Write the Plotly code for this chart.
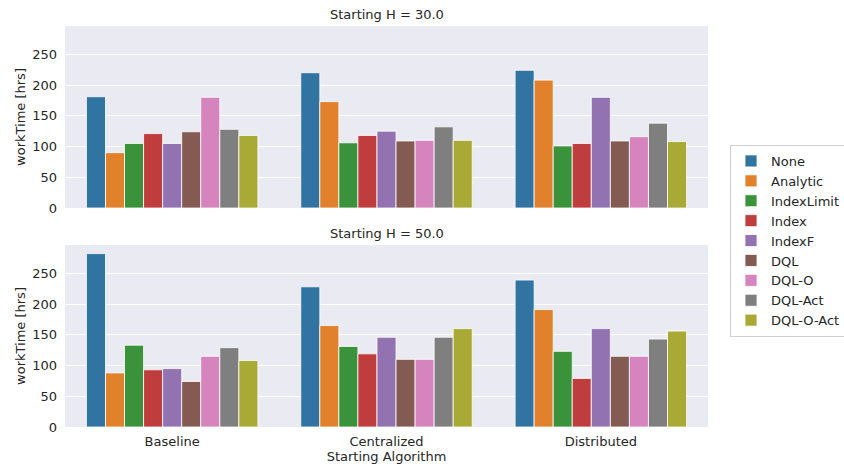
import plotly.graph_objects as go

# Starting algorithms (x categories) and scheduling policies (hue)
algorithms = ["Baseline", "Centralized", "Distributed"]
policies = ["None", "Analytic", "IndexLimit", "Index", "IndexF",
            "DQL", "DQL-O", "DQL-Act", "DQL-O-Act"]
colors = ["#3274a1", "#e1812c", "#3a923a", "#c03d3e", "#9372b2",
          "#845b53", "#d684bd", "#7f7f7f", "#a9aa35"]

# Mean work time [hrs] per policy, one list per starting algorithm
h30 = {
    "Baseline":    [181, 90, 105, 121, 105, 124, 180, 128, 118],
    "Centralized": [220, 173, 106, 118, 125, 109, 110, 132, 110],
    "Distributed": [224, 208, 101, 105, 180, 109, 116, 138, 108],
}
h50 = {
    "Baseline":    [282, 88, 133, 93, 95, 74, 115, 129, 108],
    "Centralized": [228, 165, 131, 119, 146, 110, 110, 146, 160],
    "Distributed": [239, 191, 123, 79, 160, 115, 115, 143, 156],
}

panels = [("Starting H = 30.0", h30, "x", "y"),
          ("Starting H = 50.0", h50, "x2", "y2")]

fig = go.Figure()
for p_idx, (title, data, xa, ya) in enumerate(panels):
    for i, pol in enumerate(policies):
        fig.add_trace(go.Bar(
            x=algorithms,
            y=[data[a][i] for a in algorithms],
            name=pol,
            legendgroup=pol,
            showlegend=(p_idx == 0),
            marker=dict(color=colors[i], line=dict(color="#ffffff", width=0.8)),
            xaxis=xa, yaxis=ya,
        ))

font = dict(family="DejaVu Sans", size=13, color="#262626")
axis_common = dict(
    gridcolor="#ffffff", gridwidth=1,
    zeroline=False, showline=False, ticks="",
    tickfont=font,
)

top_dom = [(427 - 208) / 401, 1.0]
bot_dom = [0.0, 182 / 401]

fig.update_layout(
    width=844, height=464,
    margin=dict(l=65, r=136, t=26, b=37, autoexpand=False),
    paper_bgcolor="#ffffff",
    plot_bgcolor="#eaeaf2",
    font=font,
    barmode="group", bargap=0.2, bargroupgap=0,
    xaxis=dict(**axis_common, domain=[0, 1], anchor="y", matches="x2",
               showticklabels=False, showgrid=False),
    yaxis=dict(**axis_common, domain=top_dom, anchor="x", range=[0, 296],
               showgrid=True,
               tickvals=[0, 50, 100, 150, 200, 250], ticklabelstandoff=7,
               title=dict(text="workTime [hrs]", font=font, standoff=3)),
    xaxis2=dict(**axis_common, domain=[0, 1], anchor="y2", showgrid=False,
                ticklabelstandoff=5,
                title=dict(text="Starting Algorithm", font=font, standoff=2)),
    yaxis2=dict(**axis_common, domain=bot_dom, anchor="x2", range=[0, 296],
                showgrid=True,
                tickvals=[0, 50, 100, 150, 200, 250], ticklabelstandoff=7,
                title=dict(text="workTime [hrs]", font=font, standoff=3)),
    legend=dict(
        x=(730 - 65) / 643, y=(427 - 145) / 401,
        xanchor="left", yanchor="top",
        bgcolor="#ffffff", bordercolor="#d0d0d0", borderwidth=1,
        font=font, traceorder="normal", itemwidth=30,
    ),
    annotations=[
        dict(text="Starting H = 30.0", x=0.5, y=1.0, xref="paper", yref="paper",
             xanchor="center", yanchor="bottom", yshift=2, showarrow=False, font=font),
        dict(text="Starting H = 50.0", x=0.5, y=bot_dom[1], xref="paper", yref="paper",
             xanchor="center", yanchor="bottom", yshift=2, showarrow=False, font=font),
    ],
)

fig.write_html("out.html")
